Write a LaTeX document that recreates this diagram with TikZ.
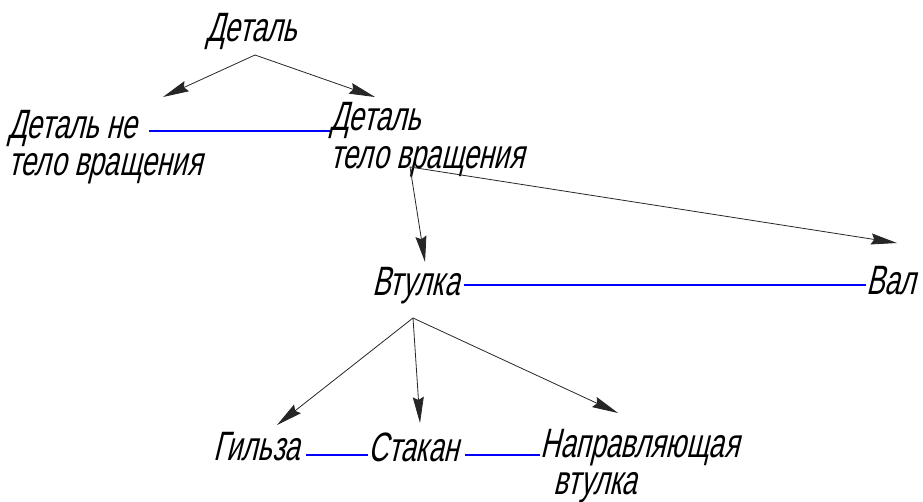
\documentclass[tikz,border=0pt]{standalone}
\usepackage{fontspec}
\newfontfamily\gost{Liberation Sans}[FakeStretch=0.67,FakeSlant=0.24]
\usetikzlibrary{arrows.meta,calc}
\begin{document}
\begin{tikzpicture}[x=1pt,y=-1pt,
  lbl/.style={font=\gost\fontsize{41}{44}\selectfont, inner sep=0, anchor=base west},
  arr/.style={draw=black!85, line width=0.8pt, -{Stealth[length=26pt,width=11pt,inset=3pt]}},
  link/.style={draw=blue, line width=1.6pt}]
\useasboundingbox (0,0) rectangle (923,502);

% labels
\node[lbl] (d0)  at (206,42)  {Деталь};
\node[lbl] (dn1) at (8,139)   {Деталь не};
\node[lbl] (dn2) at (8,176)   {тело вращения};
\node[lbl] (dt1) at (330,131) {Деталь};
\node[lbl] (dt2) at (330,169) {тело вращения};
\node[lbl] (vt)  at (372,296) {Втулка};
\node[lbl] (val) at (866,295) {Вал};
\node[lbl] (g)   at (213,460) {Гильза};
\node[lbl] (s)   at (368,461) {Стакан};
\node[lbl] (n1)  at (540,457) {Направляющая};
\node[lbl] (n2)  at (553,494) {втулка};

% arrow origins and tips
\coordinate (o1) at (255,55);
\coordinate (o2) at (410,167);
\coordinate (o3) at (413,318);
\coordinate (t1) at (163,97);
\coordinate (t2) at (375,97);
\coordinate (t3) at (425,262);
\coordinate (t4) at (897,243);
\coordinate (t5) at (277,425);
\coordinate (t6) at (420,423);
\coordinate (t7) at (618,413);

\draw[arr] (o1) -- (t1);
\draw[arr] (o1) -- (t2);
\draw[arr] (o2) -- (t3);
\draw[arr] (o2) -- (t4);
\draw[arr] (o3) -- (t5);
\draw[arr] (o3) -- (t6);
\draw[arr] (o3) -- (t7);

% links between siblings
\draw[link] (dn1.base east) ++(12,-8) coordinate (l1) -- (l1 -| dt1.west);
\draw[link] (vt.base east) ++(4,-11) coordinate (l2) -- (l2 -| val.west);
\draw[link] (g.base east) ++(6,-5) coordinate (l3) -- (l3 -| s.west);
\draw[link] (s.base east) ++(6,-6) coordinate (l4) -- (l4 -| n1.west);
\end{tikzpicture}
\end{document}
